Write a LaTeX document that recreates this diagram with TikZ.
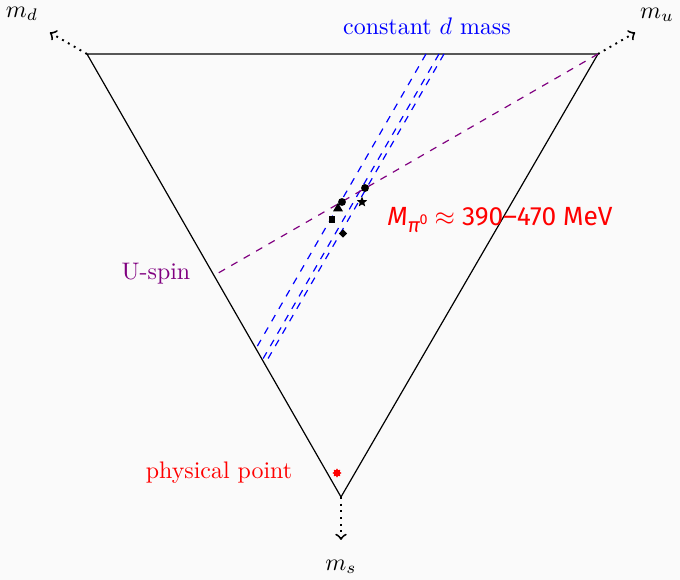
\documentclass[tikz,border=0pt]{standalone}
\usepackage{fontspec}
\newfontfamily\fira{Fira Sans}
\usetikzlibrary{shapes.geometric}
\definecolor{bgc}{RGB}{250,250,250}
\definecolor{upurple}{RGB}{128,0,128}
\tikzset{
  edge/.style={draw=black, line width=0.5pt},
  axisarrow/.style={dotted, line width=0.8pt, ->},
  dmass/.style={blue, dashed, line width=0.5pt},
  uspin/.style={upurple, dashed, line width=0.5pt},
  mk/.style={fill=black, draw=none, inner sep=0pt},
}
\begin{document}
\begin{tikzpicture}[x=0.418pt,y=-0.418pt]
\fill[bgc] (0,0) rectangle (680,580);
\useasboundingbox (0,0) rectangle (680,580);
% vertices
\coordinate (D) at (87,54);
\coordinate (U) at (598,54);
\coordinate (S) at (341,497);
\draw[edge] (D) -- (U) -- (S) -- cycle;
% axis arrows
\coordinate (Dt) at (49.8,32.5);
\coordinate (Ut) at (635.2,32.5);
\coordinate (St) at (341,540);
\draw[axisarrow] (D) -- (Dt);
\draw[axisarrow] (U) -- (Ut);
\draw[axisarrow] (S) -- (St);
\node (md) at (22,14) {$m_d$};
\node (mu) at (657,15) {$m_u$};
\node (ms) at (341,567) {$m_s$};
% constant d mass lines
\coordinate (a1) at (426,54); \coordinate (b1) at (256.5,347.6);
\coordinate (a2) at (439,54); \coordinate (b2) at (263,358.8);
\coordinate (a3) at (444,54); \coordinate (b3) at (265.5,363);
\draw[dmass] (a1) -- (b1);
\draw[dmass] (a2) -- (b2);
\draw[dmass] (a3) -- (b3);
\node[blue] (cdm) at (427,26) {constant $d$ mass};
% U-spin
\coordinate (Um) at (214,275.5);
\draw[uspin] (U) -- (Um);
\node[upurple] (usp) at (156,274) {U-spin};
% markers
\node[mk, circle, minimum size=3.3pt] (c1) at (342,202) {};
\node[mk, regular polygon, regular polygon sides=3, minimum size=4.8pt] (t1) at (338,208.5) {};
\node[mk, rectangle, minimum size=2.7pt] (s1) at (332,219.5) {};
\node[mk, circle, minimum size=3.3pt] (c2) at (365,188) {};
\node[mk, star, star points=5, star point ratio=2.3, minimum size=4.6pt] (st1) at (362,202) {};
\node[mk, diamond, minimum size=3.6pt] (d1) at (343,233.5) {};
% physical point
\node[fill=red, draw=none, star, star points=8, star point ratio=1.5, inner sep=0pt, minimum size=3.8pt] (pp) at (337,473) {};
\node[red] (ppl) at (219,473) {physical point};
% pion mass label
\node[red, anchor=west, inner sep=0pt] (mpi) at (387,220) {\fontsize{11}{14}\selectfont\fira{\itshape M}\raisebox{-2.6pt}{\fontsize{8.5}{10}\selectfont\itshape π\raisebox{3pt}{\upshape\fontsize{6}{7}\selectfont 0}} $\approx$ 390–470 MeV};
\end{tikzpicture}
\end{document}
